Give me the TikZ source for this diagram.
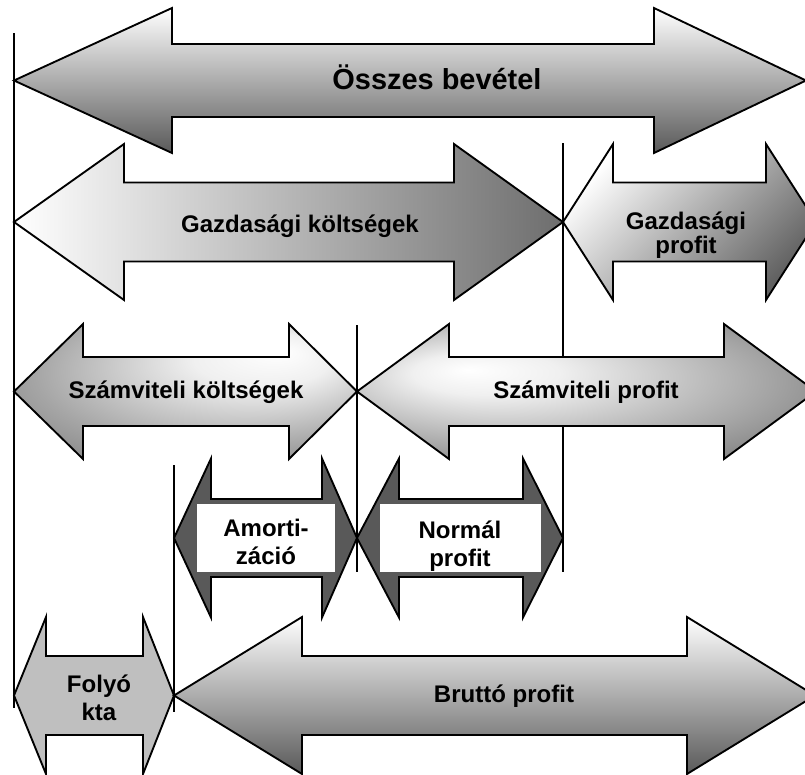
\documentclass[tikz,border=0pt]{standalone}
\usepackage{fontspec}
\setmainfont{Liberation Sans}
\usepackage{tikz}

\pgfdeclareradialshading{szglow}{\pgfpoint{14bp}{15bp}}{color(0bp)=(white); color(10bp)=(white!94!black); color(28bp)=(black!35); color(42bp)=(black!55); color(50bp)=(black!62)}
\pgfdeclareradialshading{spglow}{\pgfpoint{-13bp}{8bp}}{color(0bp)=(white); color(8bp)=(white!94!black); color(26bp)=(black!35); color(40bp)=(black!58); color(50bp)=(black!65)}

\begin{document}
\begin{tikzpicture}[x=0.03cm, y=-0.03cm,
  arr/.style={draw=black, line width=1.6pt, line join=miter},
  vline/.style={draw=black, line width=1.6pt},
  lbl/.style={font=\bfseries\fontsize{20.5}{23.9}\selectfont, align=center, inner sep=0pt}]
  \newcommand{\DblArrow}[8]{%
    \draw[arr,#1] (#2,#6) -- (#3,#6-#7) -- (#3,#6-#8) -- (#4,#6-#8) -- (#4,#6-#7) -- (#5,#6)
      -- (#4,#6+#7) -- (#4,#6+#8) -- (#3,#6+#8) -- (#3,#6+#7) -- cycle;%
  }
  \useasboundingbox (0,0) rectangle (805,774);
  \clip (0,0) rectangle (805,774);

  \draw[vline] (14,33) -- (14,708);
  \draw[vline] (174,465) -- (174,712);
  \draw[vline] (357,325) -- (357,572);
  \draw[vline] (563,143) -- (563,572);

  \DblArrow{top color=white, middle color=black!20, bottom color=black!65}{14}{172}{654}{806}{80.5}{72.5}{36.5}
  \DblArrow{left color=white, right color=black!57}{14}{124}{454}{563}{222}{78}{39.5}
  \DblArrow{top color=white, bottom color=black!62, shading angle=45}{563}{613}{766}{816}{222}{78}{39.5}
  \DblArrow{shading=szglow}{14}{83}{289}{357}{391.5}{67.5}{34.5}
  \DblArrow{shading=spglow}{357}{449}{724}{816}{391.5}{67.5}{34.5}
  \DblArrow{left color=black!65, middle color=white, right color=black!65}{174}{211}{322}{357}{538}{79.5}{39}
  \DblArrow{left color=black!65, middle color=white, right color=black!65}{357}{399}{523}{563}{538}{79.5}{39}
  \DblArrow{fill=black!25}{14}{46}{143}{174}{695.5}{78.5}{39.5}
  \DblArrow{top color=white, middle color=black!20, bottom color=black!65}{174}{302}{687}{815}{695.5}{78.5}{39.5}

  \fill[white] (197,504) rectangle (335,572);
  \fill[white] (380,504) rectangle (541,572);

  \node[lbl, anchor=base, font=\bfseries\fontsize{24.7}{28}\selectfont] (osszes) at (437,89) {Összes bevétel};
  \node[lbl, anchor=base] (gkolts) at (300,232) {Gazdasági költségek};
  \node[lbl, font=\bfseries\fontsize{20.5}{17.9}\selectfont] (gprofit) at (686,235) {Gazdasági\\profit};
  \node[lbl, anchor=base] (szkolts) at (186,398) {Számviteli költségek};
  \node[lbl, anchor=base] (szprofit) at (586,398) {Számviteli profit};
  \node[lbl] (amort) at (266,542) {Amorti-\\záció};
  \node[lbl] (normal) at (460,546) {Normál\\profit};
  \node[lbl] (folyo) at (99,698) {Folyó\\kta};
  \node[lbl, anchor=base] (brutto) at (504,702) {Bruttó profit};
\end{tikzpicture}
\end{document}
